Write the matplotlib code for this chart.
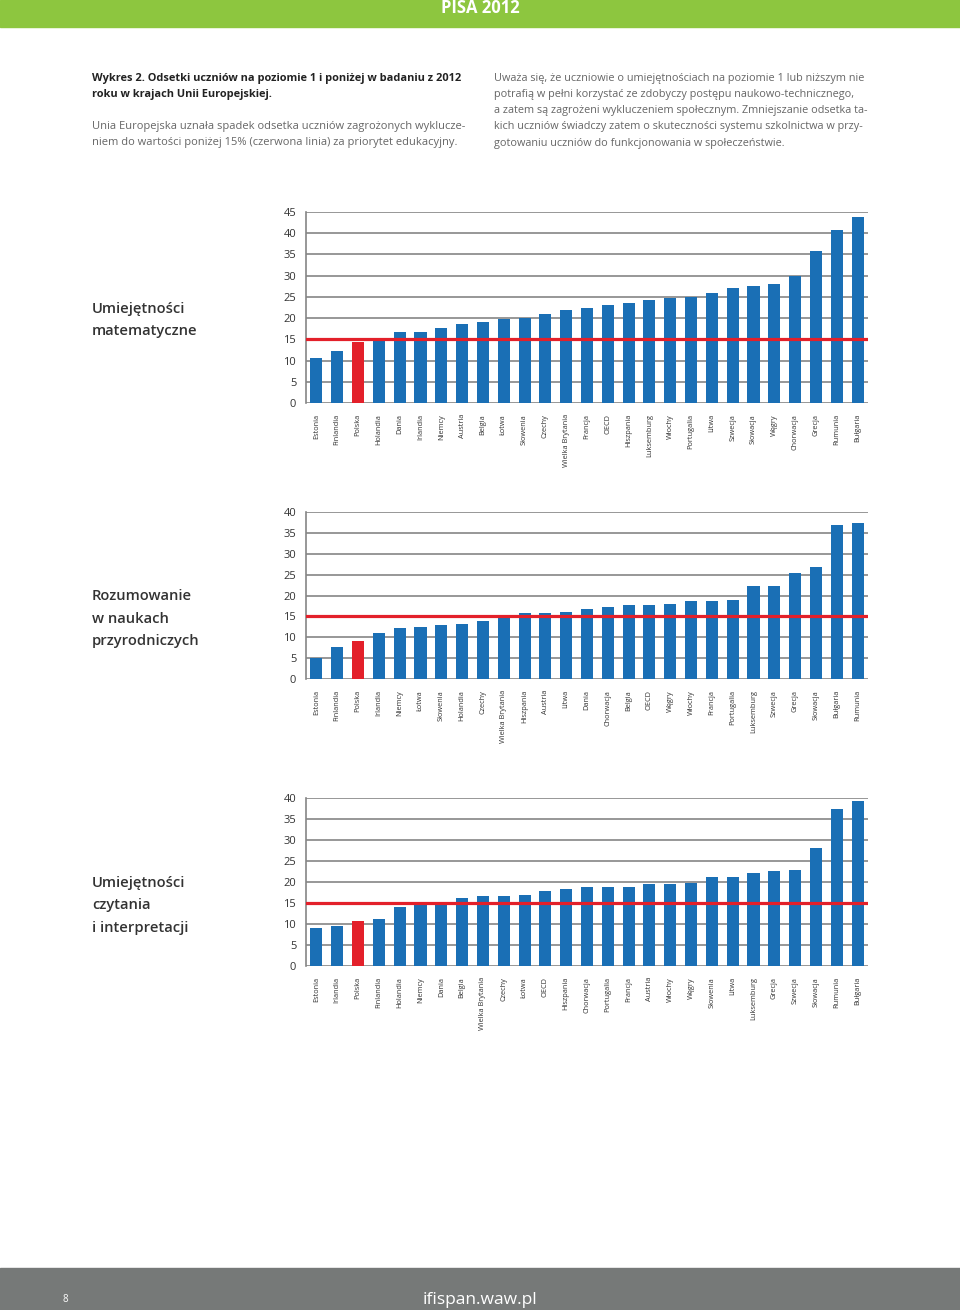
import matplotlib
matplotlib.use('Agg')
import matplotlib.pyplot as plt
import numpy as np
from matplotlib.patches import Rectangle

plt.rcParams['font.family'] = ['Open Sans', 'DejaVu Sans']

# dane: odsetek uczniow na poziomie 1 i ponizej (PISA 2012)
math_countries = ['Estonia', 'Finlandia', 'Polska', 'Holandia', 'Dania', 'Irlandia', 'Niemcy',
                  'Austria', 'Belgia', 'Łotwa', 'Słowenia', 'Czechy', 'Wielka Brytania', 'Francja',
                  'OECD', 'Hiszpania', 'Luksemburg', 'Włochy', 'Portugalia', 'Litwa', 'Szwecja',
                  'Słowacja', 'Węgry', 'Chorwacja', 'Grecja', 'Rumunia', 'Bułgaria']
math_values = [10.5, 12.3, 14.4, 14.8, 16.8, 16.8, 17.7, 18.7, 19.0, 19.9, 20.1, 21.0, 21.8, 22.4,
               23.0, 23.6, 24.3, 24.7, 24.9, 26.0, 27.1, 27.5, 28.1, 29.9, 35.7, 40.8, 43.8]

sci_countries = ['Estonia', 'Finlandia', 'Polska', 'Irlandia', 'Niemcy', 'Łotwa', 'Słowenia',
                 'Holandia', 'Czechy', 'Wielka Brytania', 'Hiszpania', 'Austria', 'Litwa', 'Dania',
                 'Chorwacja', 'Belgia', 'OECD', 'Węgry', 'Włochy', 'Francja', 'Portugalia',
                 'Luksemburg', 'Szwecja', 'Grecja', 'Słowacja', 'Bułgaria', 'Rumunia']
sci_values = [5.0, 7.7, 9.0, 11.1, 12.2, 12.4, 12.9, 13.1, 13.8, 15.0, 15.7, 15.8, 16.1, 16.7,
              17.2, 17.7, 17.8, 18.0, 18.7, 18.7, 19.0, 22.2, 22.2, 25.5, 26.9, 36.9, 37.3]

read_countries = ['Estonia', 'Irlandia', 'Polska', 'Finlandia', 'Holandia', 'Niemcy', 'Dania',
                  'Belgia', 'Wielka Brytania', 'Czechy', 'Łotwa', 'OECD', 'Hiszpania', 'Chorwacja',
                  'Portugalia', 'Francja', 'Austria', 'Włochy', 'Węgry', 'Słowenia', 'Litwa',
                  'Luksemburg', 'Grecja', 'Szwecja', 'Słowacja', 'Rumunia', 'Bułgaria']
read_values = [9.1, 9.6, 10.6, 11.3, 14.0, 14.5, 14.6, 16.1, 16.6, 16.7, 17.0, 17.8, 18.3, 18.7,
               18.8, 18.9, 19.5, 19.5, 19.7, 21.1, 21.2, 22.2, 22.7, 22.9, 28.2, 37.3, 39.4]

eu_target = 15

W, H = 960, 1310
blue = '#1a6fb5'
red = '#e3202a'
dark = '#333333'
grey_text = '#666666'

fig = plt.figure(figsize=(W / 100, H / 100), dpi=100)


def plot_bars(top, bottom, countries, values, ymax, title_lines):
    left, right = 306, 868
    ax = fig.add_axes([left / W, 1 - bottom / H, (right - left) / W, (bottom - top) / H])
    x = np.arange(len(countries))
    colors = [red if c == 'Polska' else blue for c in countries]
    ax.set_axisbelow(True)
    ax.bar(x, values, width=0.58, color=colors, zorder=2)
    ax.axhline(eu_target, color=red, lw=2.3, zorder=3)
    ax.set_xlim(-0.5, len(countries) - 0.5)
    ax.set_ylim(0, ymax)
    ax.set_yticks(np.arange(0, ymax + 1, 5))
    ax.yaxis.grid(True, color='#858585', lw=1.2)
    ax.tick_params(axis='y', length=0, pad=7, labelsize=8, labelcolor=dark)
    ax.set_xticks(x)
    ax.set_xticklabels(countries, rotation=90, fontsize=5.3, color=dark)
    ax.tick_params(axis='x', length=0, pad=8)
    for s in ['top', 'right', 'bottom']:
        ax.spines[s].set_visible(False)
    ax.spines['left'].set_color('#858585')
    ax.spines['left'].set_linewidth(1.2)
    # tytul po lewej, pierwsza linia na srodku wykresu
    mid = (top + bottom) / 2 + 1
    for i, line in enumerate(title_lines):
        fig.text(92 / W, 1 - (mid + i * 22.5) / H, line, fontsize=10.6, color=dark,
                 fontweight='semibold', va='center', ha='left')
    return ax


# naglowek
fig.patches.append(Rectangle((0, 1 - 27 / H), 1, 27 / H, transform=fig.transFigure,
                             color='#8dc63f', zorder=0))
fig.text(0.5, 1 - 8 / H, 'PISA 2012', color='white', fontsize=12, fontweight='bold',
         ha='center', va='center')

fig.text(92 / W, 1 - 78 / H, 'Wykres 2. Odsetki uczniów na poziomie 1 i poniżej w badaniu z 2012',
         fontsize=7.9, fontweight='bold', color='#222222', va='center')
fig.text(92 / W, 1 - 94 / H, 'roku w krajach Unii Europejskiej.',
         fontsize=7.9, fontweight='bold', color='#222222', va='center')
fig.text(92 / W, 1 - 127 / H, 'Unia Europejska uznała spadek odsetka uczniów zagrożonych wyklucze-',
         fontsize=8.05, color=grey_text, va='center')
fig.text(92 / W, 1 - 143 / H, 'niem do wartości poniżej 15% (czerwona linia) za priorytet edukacyjny.',
         fontsize=8.05, color=grey_text, va='center')

right_lines = ['Uważa się, że uczniowie o umiejętnościach na poziomie 1 lub niższym nie',
               'potrafią w pełni korzystać ze zdobyczy postępu naukowo-technicznego,',
               'a zatem są zagrożeni wykluczeniem społecznym. Zmniejszanie odsetka ta-',
               'kich uczniów świadczy zatem o skuteczności systemu szkolnictwa w przy-',
               'gotowaniu uczniów do funkcjonowania w społeczeństwie.']
for i, line in enumerate(right_lines):
    fig.text(494 / W, 1 - (78 + i * 16.3) / H, line, fontsize=7.85, color=grey_text, va='center')

plot_bars(212, 403, math_countries, math_values, 45, ['Umiejętności', 'matematyczne'])
plot_bars(512, 679, sci_countries, sci_values, 40, ['Rozumowanie', 'w naukach', 'przyrodniczych'])
plot_bars(798, 966, read_countries, read_values, 40, ['Umiejętności', 'czytania', 'i interpretacji'])

# stopka
fig.patches.append(Rectangle((0, 0), 1, 42 / H, transform=fig.transFigure,
                             color='#767978', zorder=0))
fig.text(65 / W, 1 - 1299 / H, '8', color='white', fontsize=7, ha='center', va='center')
fig.text(480 / W, 1 - 1300 / H, 'ifispan.waw.pl', color='white', fontsize=12.5,
         ha='center', va='center')

fig.savefig('out.png', dpi=100)
